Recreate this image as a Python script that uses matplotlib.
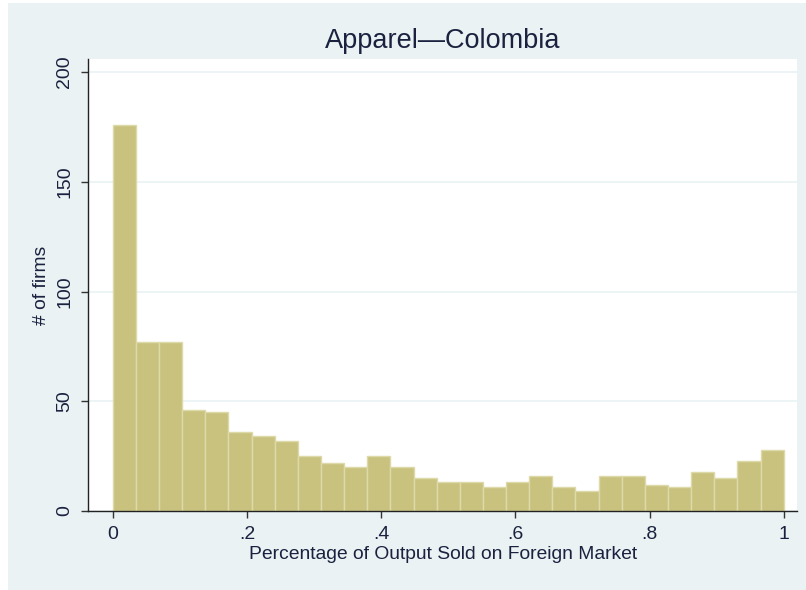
import numpy as np
import matplotlib
matplotlib.use('Agg')
import matplotlib.pyplot as plt
from matplotlib.patches import Rectangle

# histogram counts, 29 equal bins over [0, 1]
counts = [176, 77, 77, 46, 45, 36, 34, 32, 25, 22, 20, 25, 20, 15, 13,
          13, 11, 13, 16, 11, 9, 16, 16, 12, 11, 18, 15, 23, 28]
x_range = (0.0, 1.0)
x_ticks = [0, 0.2, 0.4, 0.6, 0.8, 1.0]
x_ticklabels = ['0', '.2', '.4', '.6', '.8', '1']
y_ticks = [0, 50, 100, 150, 200]

title = 'Apparel\u2014Colombia'
xlabel = 'Percentage of Output Sold on Foreign Market'
ylabel = '# of firms'

plt.rcParams['font.family'] = ['Liberation Sans', 'DejaVu Sans']

text_col = '#1b2240'
bar_col = '#c9c27f'
edge_col = '#ddd9a8'
panel_col = '#eaf2f3'

fig = plt.figure(figsize=(8.06, 5.90), dpi=100)
fig.patch.set_facecolor('white')
fig.add_artist(Rectangle((8 / 806, 0), 1 - 8 / 806, 587 / 590,
                         transform=fig.transFigure, facecolor=panel_col,
                         edgecolor='none', zorder=-1))

ax = fig.add_axes([88.3 / 806, 1 - 511 / 590, (797 - 88.3) / 806, (511 - 59) / 590])
ax.set_facecolor('white')

edges = np.linspace(x_range[0], x_range[1], len(counts) + 1)
width = edges[1] - edges[0]
ax.bar(edges[:-1], counts, width=width, align='edge', color=bar_col,
       edgecolor=edge_col, linewidth=1.0, zorder=2)

ax.set_xlim(-0.0364, 1.0198)
ax.set_ylim(0, 206)

ax.set_yticks(y_ticks)
ax.set_yticklabels([str(v) for v in y_ticks], rotation=90, va='center')
ax.set_xticks(x_ticks)
ax.set_xticklabels(x_ticklabels)

ax.yaxis.grid(True, color=panel_col, linewidth=1.2, zorder=0)
ax.set_axisbelow(True)

for side in ['top', 'right']:
    ax.spines[side].set_visible(False)
for side in ['left', 'bottom']:
    ax.spines[side].set_color('#222222')
    ax.spines[side].set_linewidth(1.0)

ax.tick_params(axis='both', direction='out', length=5, width=1.0,
               color='#333333', labelsize=14, labelcolor=text_col)
ax.tick_params(axis='x', pad=6)
ax.tick_params(axis='y', pad=6)

ax.set_title(title, fontsize=19.5, color=text_col, pad=7.7)
ax.set_xlabel(xlabel, fontsize=13.9, color=text_col, labelpad=2)
ax.set_ylabel(ylabel, fontsize=13.9, color=text_col, labelpad=4)

fig.savefig('out.png', dpi=100)
